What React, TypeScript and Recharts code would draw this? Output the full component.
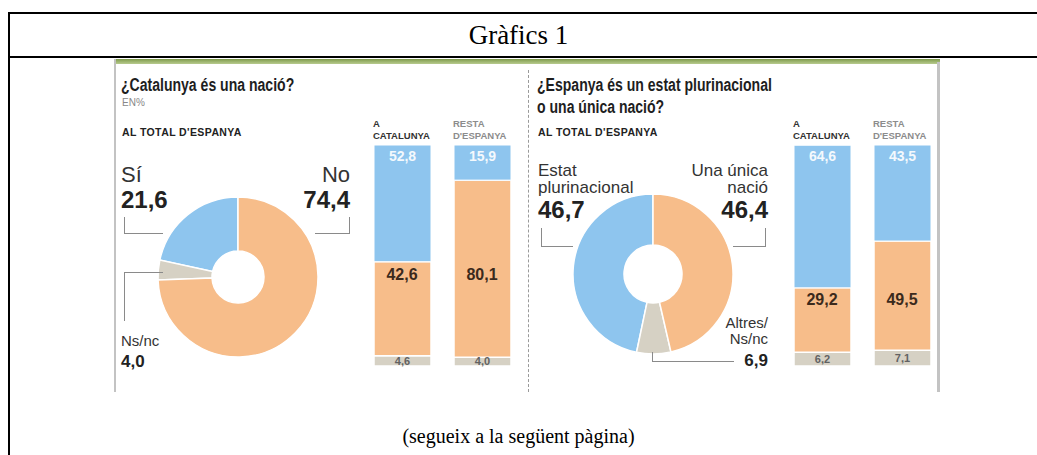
import React from "react";
import {
  PieChart,
  Pie,
  Cell,
  BarChart,
  Bar,
  XAxis,
  YAxis,
  LabelList,
  ReferenceDot,
} from "recharts";

// donut data (order: blue, grey, orange -> counter-clockwise from 12 o'clock)
const nationNames = ["Sí", "Ns/nc", "No"];
const nationValues = [21.6, 4.0, 74.4];
const stateNames = ["Estat plurinacional", "Altres/Ns/nc", "Una única nació"];
const stateValues = [46.7, 6.9, 46.4];

// stacked bars
const barCategories = ["A\nCATALUNYA", "RESTA\nD'ESPANYA"];
const nationYes = [52.8, 15.9];
const nationNo = [42.6, 80.1];
const nationNs = [4.6, 4.0];
const statePlural = [64.6, 43.5];
const stateUnique = [29.2, 49.5];
const stateOther = [6.2, 7.1];

const BLUE = "#8ec5ee";
const ORANGE = "#f7bd8a";
const GREY = "#d6d1c4";
const SANS = '"Liberation Sans", Arial, sans-serif';
const SERIF = '"Liberation Serif", "Times New Roman", serif';
const LINE = "#8a8a8a";

const fmt = (v: any) => Number(v).toFixed(1).replace(".", ",");

// positioned text helper, cy = vertical centre of the line
const T = ({ x, cy, size, bold = false, align = "left", color = "#2a2a2a", children }: any) => {
  const pos: any =
    align === "right" ? { right: 1037 - x } : { left: x };
  return (
    <div
      style={{
        position: "absolute",
        top: cy - size / 2,
        height: size,
        lineHeight: `${size}px`,
        fontSize: size,
        fontWeight: bold ? "bold" : "normal",
        fontFamily: SANS,
        color,
        whiteSpace: "nowrap",
        ...pos,
      }}
    >
      {children}
    </div>
  );
};

// bracket-shaped leader line
const Leader = ({ left, top, width, height, sides }: any) => {
  const s: any = { position: "absolute", left, top, width, height };
  sides.forEach((side: string) => {
    s["border" + side] = `1.5px solid ${LINE}`;
  });
  return <div style={s} />;
};

const Donut = ({ left, top, values, names, inner }: any) => {
  const data = names.map((n: string, i: number) => ({ name: n, value: values[i] }));
  const colors = [BLUE, GREY, ORANGE];
  return (
    <div style={{ position: "absolute", left, top }}>
      <PieChart width={170} height={170} margin={{ top: 0, right: 0, bottom: 0, left: 0 }}>
        <Pie
          data={data}
          dataKey="value"
          cx={85}
          cy={85}
          innerRadius={inner}
          outerRadius={80}
          startAngle={90}
          endAngle={450}
          stroke="#fff"
          strokeWidth={1.5}
          isAnimationActive={false}
        >
          {data.map((d: any, i: number) => (
            <Cell key={d.name} fill={colors[i]} />
          ))}
        </Pie>
      </PieChart>
    </div>
  );
};

const HeaderTick = (props: any) => {
  const { x, y, payload, index } = props;
  const [l1, l2] = String(payload.value).split("\n");
  const color = index === 0 ? "#333" : "#8c8c8c";
  return (
    <g>
      <text x={x - 29} y={y - 18.5} fill={color} fontSize={9.5} fontWeight="bold" fontFamily={SANS}>
        {l1}
      </text>
      <text x={x - 29} y={y - 6.5} fill={color} fontSize={9.5} fontWeight="bold" fontFamily={SANS}>
        {l2}
      </text>
    </g>
  );
};

const StackBars = ({ left, top, upper, middle, lower, midOffset }: any) => {
  const rows = barCategories.map((c, i) => ({
    cat: c,
    upper: upper[i],
    middle: middle[i],
    lower: lower[i],
  }));
  // orange labels sit on one line, just under Catalunya's orange top
  const midLevel = lower[0] + middle[0];
  return (
    <div style={{ position: "absolute", left, top }}>
      <BarChart
        width={160}
        height={261}
        data={rows}
        margin={{ top: 0, right: 0, bottom: 10, left: 0 }}
        barCategoryGap={0}
      >
        <XAxis
          dataKey="cat"
          orientation="top"
          height={30}
          axisLine={false}
          tickLine={false}
          tickSize={0}
          tickMargin={0}
          interval={0}
          tick={<HeaderTick />}
        />
        <YAxis hide domain={[0, "dataMax"]} />
        <Bar dataKey="lower" stackId="s" fill={GREY} barSize={57} stroke="#fff" strokeWidth={1.5} isAnimationActive={false}>
          <LabelList
            dataKey="lower"
            position="center"
            formatter={fmt}
            fill="#626262"
            fontSize={11}
            fontWeight="bold"
            fontFamily={SANS}
          />
        </Bar>
        <Bar dataKey="middle" stackId="s" fill={ORANGE} barSize={57} stroke="#fff" strokeWidth={1.5} isAnimationActive={false} />
        <Bar dataKey="upper" stackId="s" fill={BLUE} barSize={57} stroke="#fff" strokeWidth={1} isAnimationActive={false}>
          <LabelList
            dataKey="upper"
            position="insideTop"
            offset={6}
            formatter={fmt}
            fill="#f4f9fd"
            fontSize={14}
            fontWeight="bold"
            fontFamily={SANS}
          />
        </Bar>
        {barCategories.map((c, i) => (
          <ReferenceDot
            key={c}
            x={c}
            y={midLevel}
            r={0}
            fill="none"
            stroke="none"
            label={{
              value: fmt(middle[i]),
              position: "bottom",
              offset: midOffset,
              fill: "#3b2a1c",
              fontSize: 16,
              fontWeight: "bold",
              fontFamily: SANS,
            }}
          />
        ))}
      </BarChart>
    </div>
  );
};

const Title = ({ x, cy, children }: any) => (
  <div
    style={{
      position: "absolute",
      left: x,
      top: cy - 10,
      height: 20,
      lineHeight: "20px",
      fontSize: 18,
      fontWeight: "bold",
      fontFamily: SANS,
      color: "#1e1e1e",
      whiteSpace: "nowrap",
      transform: "scaleX(0.78)",
      transformOrigin: "left center",
    }}
  >
    {children}
  </div>
);

const App = () => {
  return (
    <div
      style={{
        position: "absolute",
        left: 0,
        top: 0,
        width: 1037,
        height: 455,
        overflow: "hidden",
        background: "#fff",
      }}
    >
      {/* document frame */}
      <div style={{ position: "absolute", left: 8, top: 12, width: 1029, height: 2, background: "#000" }} />
      <div style={{ position: "absolute", left: 8, top: 56, width: 1029, height: 2, background: "#000" }} />
      <div style={{ position: "absolute", left: 8, top: 12, width: 2, height: 443, background: "#000" }} />
      <div
        style={{
          position: "absolute",
          left: 0,
          width: 1037,
          top: 19,
          textAlign: "center",
          fontFamily: SERIF,
          fontSize: 27,
          lineHeight: "32px",
        }}
      >
        Gràfics 1
      </div>
      <div
        style={{
          position: "absolute",
          left: 0,
          width: 1037,
          top: 424,
          textAlign: "center",
          fontFamily: SERIF,
          fontSize: 20,
          lineHeight: "24px",
        }}
      >
        (segueix a la següent pàgina)
      </div>

      {/* newspaper graphic box */}
      <div
        style={{
          position: "absolute",
          left: 114,
          top: 59,
          width: 826,
          height: 5,
          background: "linear-gradient(#7f9b4c, #b8cb8e)",
        }}
      />
      <div style={{ position: "absolute", left: 114, top: 59, width: 2, height: 333, background: "#c3c3c3" }} />
      <div style={{ position: "absolute", left: 937, top: 62, width: 3, height: 330, background: "#c3c3c3" }} />
      <div style={{ position: "absolute", left: 528, top: 70, width: 0, height: 322, borderLeft: "1px dashed #9a9a9a" }} />

      {/* left panel */}
      <Title x={121} cy={85}>¿Catalunya és una nació?</Title>
      <T x={122} cy={103} size={10} color="#888">EN%</T>
      <T x={122} cy={132} size={10.5} bold color="#222">
        <span style={{ letterSpacing: 0.4 }}>AL TOTAL D'ESPANYA</span>
      </T>
      <Donut left={153} top={192} values={nationValues} names={nationNames} inner={26} />
      <T x={121} cy={175} size={22} color="#333">{nationNames[0]}</T>
      <T x={121} cy={200} size={24} bold color="#222">{fmt(nationValues[0])}</T>
      <T x={350} cy={175} size={22} align="right" color="#333">{nationNames[2]}</T>
      <T x={350} cy={200} size={24} bold align="right" color="#222">{fmt(nationValues[2])}</T>
      <T x={121} cy={340} size={15} color="#333">{nationNames[1]}</T>
      <T x={121} cy={361} size={17} bold color="#222">{fmt(nationValues[1])}</T>
      <Leader left={124} top={217} width={38} height={16} sides={["Left", "Bottom"]} />
      <Leader left={315} top={217} width={34} height={16} sides={["Right", "Bottom"]} />
      <Leader left={124} top={272} width={38} height={48} sides={["Left", "Top"]} />
      <StackBars left={362} top={115} upper={nationYes} middle={nationNo} lower={nationNs} midOffset={7} />

      {/* right panel */}
      <Title x={537} cy={85}>¿Espanya és un estat plurinacional</Title>
      <Title x={537} cy={107}>o una única nació?</Title>
      <T x={538} cy={132} size={10.5} bold color="#222">
        <span style={{ letterSpacing: 0.4 }}>AL TOTAL D'ESPANYA</span>
      </T>
      <Donut left={568} top={189} values={stateValues} names={stateNames} inner={29} />
      <T x={538} cy={170} size={17} color="#333">Estat</T>
      <T x={538} cy={187} size={17} color="#333">plurinacional</T>
      <T x={538} cy={210} size={24} bold color="#222">{fmt(stateValues[0])}</T>
      <T x={768} cy={170} size={17} align="right" color="#333">Una única</T>
      <T x={768} cy={187} size={17} align="right" color="#333">nació</T>
      <T x={768} cy={210} size={24} bold align="right" color="#222">{fmt(stateValues[2])}</T>
      <T x={768} cy={322} size={15} align="right" color="#333">Altres/</T>
      <T x={768} cy={338} size={15} align="right" color="#333">Ns/nc</T>
      <T x={768} cy={360} size={17} bold align="right" color="#222">{fmt(stateValues[1])}</T>
      <Leader left={541} top={228} width={31} height={18} sides={["Left", "Bottom"]} />
      <Leader left={733} top={228} width={32} height={18} sides={["Right", "Bottom"]} />
      <Leader left={652} top={352} width={81} height={9} sides={["Left", "Bottom"]} />
      <StackBars left={782} top={115} upper={statePlural} middle={stateUnique} lower={stateOther} midOffset={6} />
    </div>
  );
};

export default App;
